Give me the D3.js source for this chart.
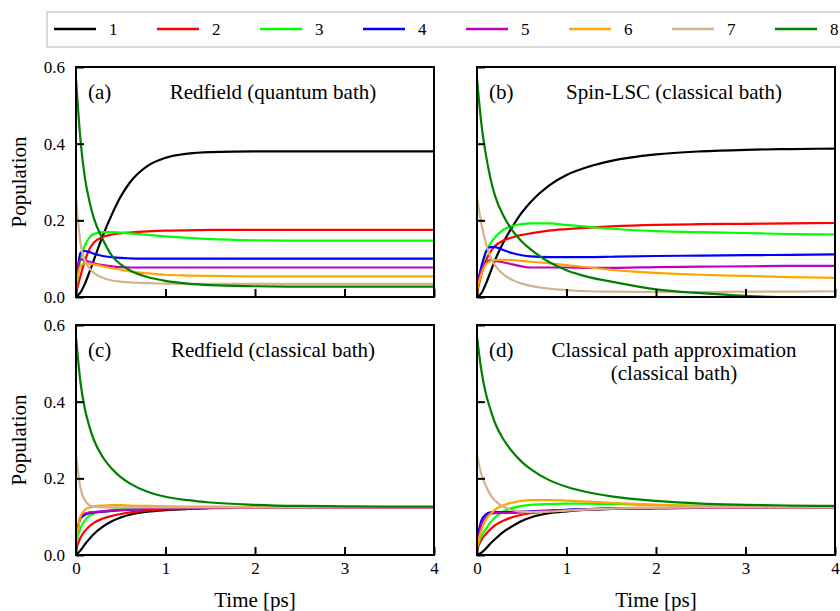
<!DOCTYPE html>
<html>
<head>
<meta charset="utf-8">
<script src="https://cdn.jsdelivr.net/npm/d3@7"></script>
<style>
  body { margin: 0; background: #fff; }
  svg { display: block; }
  text { font-family: "Liberation Serif", "DejaVu Serif", "Times New Roman", serif; fill: #000; }
</style>
</head>
<body>
<svg id="chart" width="840" height="611"></svg>
<script>
// ---------------------------------------------------------------------------
// data, time in ps
// ---------------------------------------------------------------------------
const times = [0, 0.05, 0.1, 0.15, 0.2, 0.3, 0.4, 0.5, 0.6, 0.8, 1.0, 1.25, 1.5, 2.0, 2.5, 3.0, 3.5, 4.0];

const siteNames = ['1', '2', '3', '4', '5', '6', '7', '8'];
const siteColors = ['#000000', '#ff0000', '#00ff00', '#0000ff', '#bf00bf', '#ffa500', '#d2b48c', '#008000'];

const yTicks = [0, 0.2, 0.4, 0.6];
const xTicks = [0, 1, 2, 3, 4];

// (a) Redfield (quantum bath)
const redfieldQuantum = [
  [0, 0.012, 0.035, 0.065, 0.097, 0.16, 0.215, 0.262, 0.298, 0.342, 0.363, 0.374, 0.378, 0.38, 0.38, 0.38, 0.38, 0.38],
  [0.01, 0.055, 0.095, 0.125, 0.142, 0.157, 0.163, 0.166, 0.168, 0.171, 0.173, 0.174, 0.175, 0.175, 0.175, 0.175, 0.175, 0.175],
  [0.02, 0.1, 0.135, 0.155, 0.164, 0.169, 0.169, 0.168, 0.166, 0.162, 0.158, 0.154, 0.151, 0.148, 0.147, 0.147, 0.147, 0.147],
  [0.03, 0.115, 0.12, 0.117, 0.113, 0.107, 0.104, 0.102, 0.101, 0.1, 0.1, 0.1, 0.1, 0.1, 0.1, 0.1, 0.1, 0.1],
  [0.03, 0.098, 0.096, 0.092, 0.088, 0.083, 0.08, 0.078, 0.077, 0.077, 0.077, 0.077, 0.077, 0.077, 0.077, 0.077, 0.077, 0.077],
  [0.03, 0.08, 0.088, 0.087, 0.085, 0.08, 0.075, 0.071, 0.067, 0.062, 0.058, 0.056, 0.055, 0.054, 0.054, 0.054, 0.054, 0.054],
  [0.26, 0.14, 0.095, 0.075, 0.063, 0.05, 0.043, 0.04, 0.038, 0.036, 0.035, 0.034, 0.034, 0.034, 0.034, 0.034, 0.034, 0.034],
  [0.57, 0.41, 0.31, 0.25, 0.205, 0.15, 0.108, 0.085, 0.07, 0.052, 0.042, 0.035, 0.031, 0.028, 0.027, 0.027, 0.027, 0.027]
];

// (b) Spin-LSC (classical bath)
const spinLSC = [
  [0, 0.01, 0.035, 0.065, 0.095, 0.145, 0.185, 0.22, 0.248, 0.29, 0.318, 0.34, 0.355, 0.372, 0.38, 0.384, 0.386, 0.387],
  [0.01, 0.06, 0.095, 0.118, 0.133, 0.148, 0.156, 0.162, 0.166, 0.173, 0.177, 0.181, 0.184, 0.188, 0.19, 0.191, 0.192, 0.193],
  [0.02, 0.075, 0.115, 0.14, 0.155, 0.176, 0.186, 0.19, 0.192, 0.192, 0.188, 0.183, 0.178, 0.172, 0.169, 0.167, 0.164, 0.163],
  [0.03, 0.08, 0.118, 0.13, 0.13, 0.122, 0.114, 0.109, 0.106, 0.104, 0.104, 0.104, 0.105, 0.107, 0.108, 0.109, 0.11, 0.111],
  [0.03, 0.07, 0.09, 0.096, 0.094, 0.09, 0.085, 0.08, 0.077, 0.077, 0.077, 0.076, 0.076, 0.078, 0.079, 0.08, 0.081, 0.081],
  [0.02, 0.06, 0.085, 0.093, 0.096, 0.097, 0.096, 0.094, 0.092, 0.088, 0.083, 0.077, 0.071, 0.063, 0.058, 0.055, 0.052, 0.05],
  [0.26, 0.19, 0.14, 0.105, 0.083, 0.058, 0.044, 0.035, 0.029, 0.022, 0.018, 0.015, 0.014, 0.013, 0.013, 0.014, 0.014, 0.015],
  [0.57, 0.45, 0.37, 0.31, 0.265, 0.21, 0.172, 0.145, 0.124, 0.092, 0.07, 0.052, 0.04, 0.02, 0.01, 0.003, 0, 0]
];

// (c) Redfield (classical bath)
const redfieldClassical = [
  [0, 0.012, 0.028, 0.042, 0.055, 0.074, 0.088, 0.098, 0.105, 0.113, 0.117, 0.12, 0.122, 0.123, 0.124, 0.124, 0.124, 0.124],
  [0.015, 0.045, 0.063, 0.075, 0.084, 0.095, 0.102, 0.107, 0.111, 0.116, 0.119, 0.121, 0.123, 0.124, 0.124, 0.124, 0.124, 0.124],
  [0.03, 0.07, 0.09, 0.102, 0.108, 0.114, 0.118, 0.12, 0.122, 0.123, 0.124, 0.124, 0.124, 0.124, 0.124, 0.124, 0.124, 0.124],
  [0.04, 0.095, 0.105, 0.109, 0.111, 0.113, 0.115, 0.117, 0.118, 0.12, 0.121, 0.122, 0.123, 0.123, 0.123, 0.123, 0.123, 0.123],
  [0.04, 0.1, 0.108, 0.111, 0.112, 0.114, 0.116, 0.117, 0.118, 0.12, 0.121, 0.122, 0.123, 0.123, 0.123, 0.123, 0.123, 0.123],
  [0.03, 0.1, 0.118, 0.124, 0.127, 0.129, 0.13, 0.13, 0.129, 0.128, 0.127, 0.126, 0.126, 0.125, 0.125, 0.125, 0.125, 0.125],
  [0.26, 0.175, 0.142, 0.13, 0.126, 0.124, 0.124, 0.124, 0.124, 0.124, 0.124, 0.124, 0.124, 0.124, 0.124, 0.124, 0.124, 0.124],
  [0.57, 0.45, 0.38, 0.335, 0.3, 0.255, 0.225, 0.203, 0.187, 0.165, 0.152, 0.143, 0.137, 0.131, 0.128, 0.127, 0.126, 0.126]
];

// (d) Classical path approximation (classical bath)
const classicalPath = [
  [0, 0.006, 0.017, 0.03, 0.041, 0.061, 0.076, 0.089, 0.098, 0.109, 0.114, 0.118, 0.12, 0.122, 0.123, 0.124, 0.124, 0.124],
  [0.015, 0.04, 0.055, 0.067, 0.077, 0.09, 0.099, 0.105, 0.109, 0.114, 0.117, 0.12, 0.122, 0.123, 0.124, 0.124, 0.124, 0.124],
  [0.02, 0.05, 0.068, 0.085, 0.098, 0.114, 0.123, 0.128, 0.131, 0.133, 0.134, 0.134, 0.133, 0.131, 0.128, 0.127, 0.126, 0.125],
  [0.04, 0.09, 0.106, 0.111, 0.112, 0.112, 0.112, 0.113, 0.114, 0.116, 0.118, 0.12, 0.121, 0.122, 0.123, 0.123, 0.123, 0.123],
  [0.03, 0.08, 0.1, 0.107, 0.109, 0.11, 0.11, 0.111, 0.112, 0.115, 0.117, 0.119, 0.121, 0.122, 0.123, 0.123, 0.123, 0.123],
  [0.02, 0.065, 0.092, 0.107, 0.118, 0.13, 0.137, 0.141, 0.143, 0.143, 0.142, 0.139, 0.136, 0.131, 0.128, 0.126, 0.125, 0.125],
  [0.26, 0.21, 0.18, 0.157, 0.142, 0.125, 0.117, 0.113, 0.112, 0.113, 0.116, 0.119, 0.121, 0.123, 0.124, 0.124, 0.124, 0.124],
  [0.57, 0.48, 0.42, 0.38, 0.345, 0.3, 0.268, 0.243, 0.224, 0.196, 0.178, 0.163, 0.153, 0.141, 0.134, 0.131, 0.129, 0.128]
];

// ---------------------------------------------------------------------------
// layout
// ---------------------------------------------------------------------------
const svg = d3.select('#chart');
const serif = '"Liberation Serif", "DejaVu Serif", serif';
const plotW = 358, plotH = 230;
const panels = [
  { id: 'a', data: redfieldQuantum,   left: 76,  top: 67,  title: ['Redfield (quantum bath)'],                        xLabels: false, yLabels: true },
  { id: 'b', data: spinLSC,           left: 477, top: 67,  title: ['Spin-LSC (classical bath)'],                      xLabels: false, yLabels: false },
  { id: 'c', data: redfieldClassical, left: 76,  top: 325, title: ['Redfield (classical bath)'],                      xLabels: true,  yLabels: true },
  { id: 'd', data: classicalPath,     left: 477, top: 325, title: ['Classical path approximation', '(classical bath)'], xLabels: true,  yLabels: false }
];

panels.forEach(p => {
  const x = d3.scaleLinear().domain([0, 4]).range([p.left, p.left + plotW]);
  const y = d3.scaleLinear().domain([0, 0.6]).range([p.top + plotH, p.top]);
  const g = svg.append('g');

  g.append('clipPath').attr('id', 'clip-' + p.id)
    .append('rect').attr('x', p.left).attr('y', p.top).attr('width', plotW).attr('height', plotH);

  // curves
  const line = d3.line()
    .x((d, i) => x(times[i]))
    .y(d => y(d))
    .curve(d3.curveMonotoneX);

  g.append('g').attr('clip-path', `url(#clip-${p.id})`)
    .selectAll('path')
    .data(p.data)
    .join('path')
    .attr('d', line)
    .attr('fill', 'none')
    .attr('stroke', (d, i) => siteColors[i])
    .attr('stroke-width', 2.2);

  // axes (ticks point inward)
  const yAxis = d3.axisLeft(y).tickValues(yTicks).tickSize(-8).tickPadding(11)
    .tickFormat(p.yLabels ? d3.format('.1f') : '');
  const xAxis = d3.axisBottom(x).tickValues(xTicks).tickSize(-8).tickPadding(7)
    .tickFormat(p.xLabels ? d3.format('d') : '');

  const ya = g.append('g').attr('transform', `translate(${p.left},0)`).call(yAxis);
  const xa = g.append('g').attr('transform', `translate(0,${p.top + plotH})`).call(xAxis);
  [ya, xa].forEach(a => {
    a.select('.domain').remove();
    a.selectAll('line').attr('stroke', '#000').attr('stroke-width', 2);
    a.selectAll('text').style('font-family', serif).style('font-size', '17px').attr('fill', '#000');
  });

  // frame
  g.append('rect')
    .attr('x', p.left).attr('y', p.top).attr('width', plotW).attr('height', plotH)
    .attr('fill', 'none').attr('stroke', '#000').attr('stroke-width', 2);

  // panel label + title
  g.append('text').attr('x', p.left + 12).attr('y', p.top + 32)
    .style('font-family', serif).style('font-size', '21px').text(`(${p.id})`);
  p.title.forEach((t, k) => {
    g.append('text').attr('x', p.left + 197).attr('y', p.top + 32 + k * 23)
      .attr('text-anchor', 'middle')
      .style('font-family', serif).style('font-size', '21px').text(t);
  });

  if (p.yLabels) {
    g.append('text')
      .attr('transform', `translate(26,${p.top + plotH / 2}) rotate(-90)`)
      .attr('text-anchor', 'middle')
      .style('font-family', serif).style('font-size', '21px').text('Population');
  }
  if (p.xLabels) {
    g.append('text').attr('x', p.left + plotW / 2).attr('y', 607)
      .attr('text-anchor', 'middle')
      .style('font-family', serif).style('font-size', '21px').text('Time [ps]');
  }
});

// ---------------------------------------------------------------------------
// legend
// ---------------------------------------------------------------------------
const legend = svg.append('g');
legend.append('rect')
  .attr('x', 47).attr('y', 12).attr('width', 820).attr('height', 35)
  .attr('fill', '#fff').attr('stroke', '#d9d9d9').attr('stroke-width', 2);

const item = legend.selectAll('g.item')
  .data(siteNames)
  .join('g')
  .attr('class', 'item')
  .attr('transform', (d, i) => `translate(${54 + i * 103},29)`);
item.append('line').attr('x1', 0).attr('x2', 42).attr('y1', 0).attr('y2', 0)
  .attr('stroke', (d, i) => siteColors[i]).attr('stroke-width', 2.5);
item.append('text').attr('x', 55).attr('y', 6)
  .style('font-family', serif).style('font-size', '17px').text(d => d);
</script>
</body>
</html>
